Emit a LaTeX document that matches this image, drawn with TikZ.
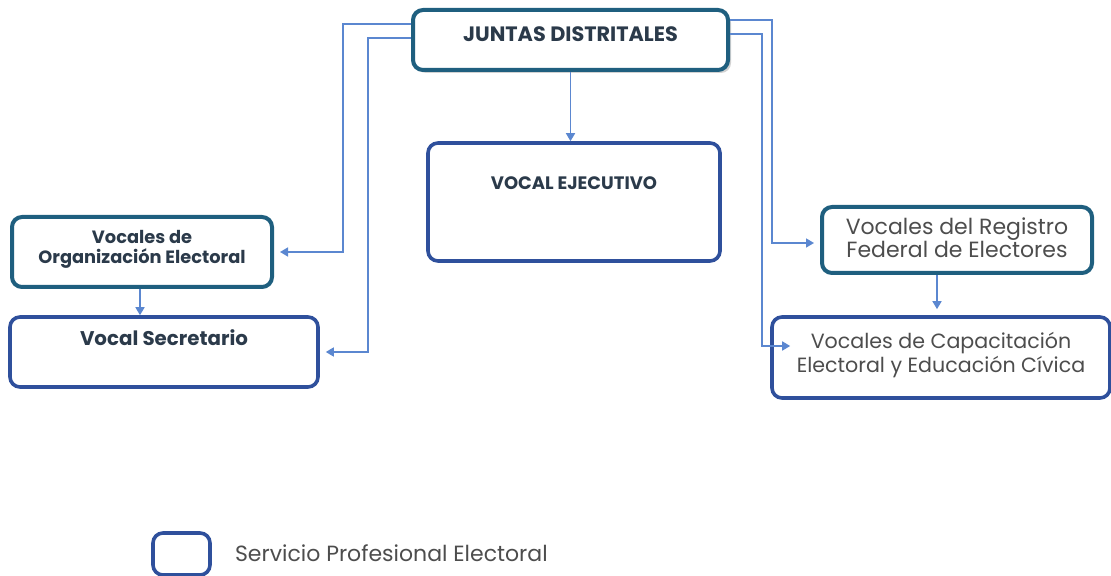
\documentclass[tikz,border=0pt]{standalone}
\usepackage{fontspec}
\setmainfont{Poppins}
\usetikzlibrary{arrows.meta,shadows}
\definecolor{tealline}{HTML}{1F5F7F}
\definecolor{blueline}{HTML}{2F509C}
\definecolor{linkcol}{HTML}{5B87D0}
\definecolor{txtdark}{HTML}{2B3A4A}
\definecolor{txtgray}{HTML}{4D4D4D}
\begin{document}
\begin{tikzpicture}[x=0.5pt, y=-0.5pt,
	box/.style={draw=tealline, line width=2pt, rounded corners=5pt, fill=white},
	box2/.style={draw=blueline, line width=1.8pt, rounded corners=5pt, fill=white},
	title/.style={anchor=north, font=\bfseries\fontsize{8.9}{10}\selectfont, text=txtdark, align=center},
	plain/.style={anchor=north, font=\fontsize{11}{11.5}\selectfont, text=txtgray, align=center},
	link/.style={draw=linkcol, line width=0.8pt, -{Triangle[width=4.5pt,length=4pt]}}]
	    \useasboundingbox (0,0) rectangle (1111,576);
	    \node[box, drop shadow={shadow xshift=1.5pt, shadow yshift=-1.5pt, fill=black!35}, minimum width=157.5pt, minimum height=30pt,
	        label={[title, font=\bfseries\fontsize{10.4}{12}\selectfont, yshift=-6pt]north:JUNTAS DISTRITALES}] (jun) at (570.5,40) {};
	    \node[box2, minimum width=146pt, minimum height=59pt,
	        label={[title, font=\bfseries\fontsize{9}{10}\selectfont, yshift=-14pt]north:VOCAL EJECUTIVO}] (eje) at (574,202) {};
	    \node[box, minimum width=130pt, minimum height=35pt,
	        label={[title, yshift=-4pt]north:Vocales de\\Organización Electoral}] (org) at (142,252) {};
	    \node[box2, minimum width=154pt, minimum height=35pt,
	        label={[title, font=\bfseries\fontsize{9.9}{11}\selectfont, yshift=-3.5pt]north:Vocal Secretario}] (sec) at (164,352) {};
	    \node[box, minimum width=135pt, minimum height=33pt,
	        label={[plain, yshift=-3pt]north:Vocales del Registro\\Federal de Electores}] (reg) at (957,240) {};
	    \node[box2, minimum width=169pt, minimum height=40.5pt,
	        label={[plain, font=\fontsize{10.3}{10}\selectfont, yshift=-5pt]north:Vocales de Capacitación\\Electoral y Educación Cívica}] (cap) at (941,357.5) {};
	    \node[box2, minimum width=28.5pt, minimum height=21pt] (leg) at (181.5,554) {};
	    \node[plain, anchor=west, font=\fontsize{11}{12}\selectfont] (legtxt) at (228,553) {Servicio Profesional Electoral};
	    % bends of the links
	    \coordinate (lA) at (343,24);
	    \coordinate (lB) at (368,38);
	    \coordinate (rA) at (772,20);
	    \coordinate (rB) at (762,34);
	    \draw[link] (jun.south) -- (jun.south |- eje.north);
	    \draw[link] ([xshift=-1pt]org.south) -- ([xshift=-1pt]org.south |- sec.north);
	    \draw[link] ([xshift=-10pt]reg.south) -- ([xshift=-10pt,yshift=3pt]reg.south |- cap.north);
	    \draw[link, shorten >=3pt] (jun.west |- lA) -- (lA) |- (org.east);
	    \draw[link, shorten >=3pt] (jun.west |- lB) -- (lB) |- (sec.east);
	    \draw[link, shorten >=3pt] (jun.east |- rA) -- (rA) |- ([yshift=-1.5pt]reg.west);
	    \draw[link] (jun.east |- rB) -- (rB) |- ([shift={(20,-11.5)}]cap.west);
	\end{tikzpicture}
\end{document}
